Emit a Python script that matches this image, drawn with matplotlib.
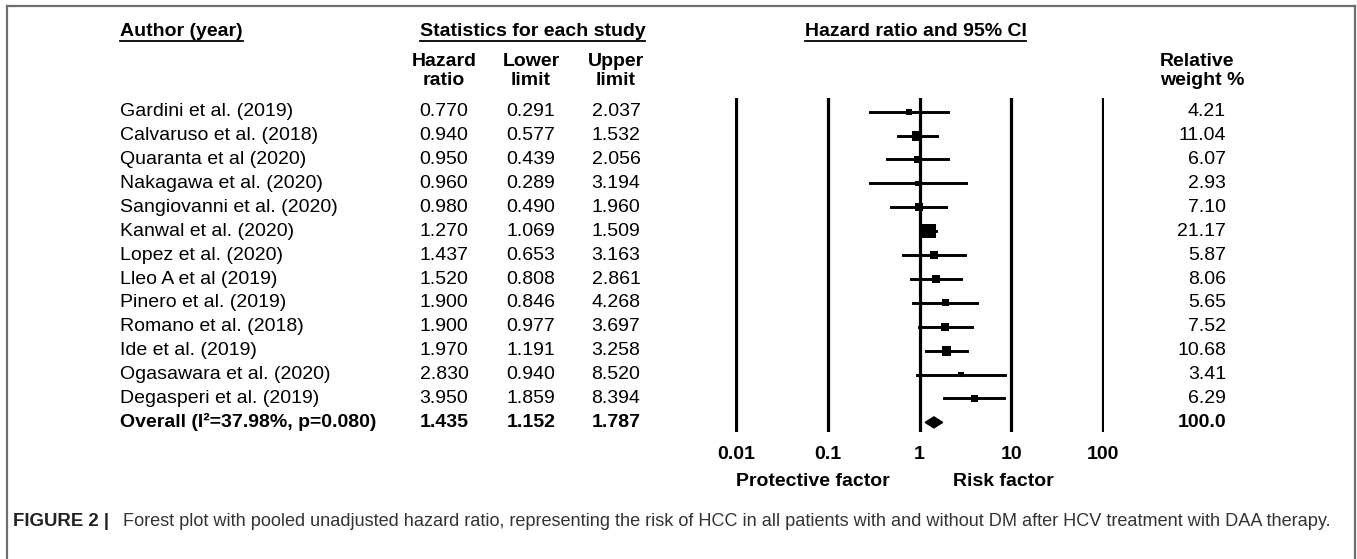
import numpy as np
import matplotlib
matplotlib.use('Agg')
import matplotlib.pyplot as plt
from matplotlib.ticker import NullLocator

plt.rcParams['font.family'] = ['Liberation Sans', 'DejaVu Sans']

# data
authors = ['Gardini et al. (2019)', 'Calvaruso et al. (2018)', 'Quaranta et al (2020)',
           'Nakagawa et al. (2020)', 'Sangiovanni et al. (2020)', 'Kanwal et al. (2020)',
           'Lopez et al. (2020)', 'Lleo A et al (2019)', 'Pinero et al. (2019)',
           'Romano et al. (2018)', 'Ide et al. (2019)', 'Ogasawara et al. (2020)',
           'Degasperi et al. (2019)']
hr = [0.770, 0.940, 0.950, 0.960, 0.980, 1.270, 1.437, 1.520, 1.900, 1.900, 1.970, 2.830, 3.950]
lower = [0.291, 0.577, 0.439, 0.289, 0.490, 1.069, 0.653, 0.808, 0.846, 0.977, 1.191, 0.940, 1.859]
upper = [2.037, 1.532, 2.056, 3.194, 1.960, 1.509, 3.163, 2.861, 4.268, 3.697, 3.258, 8.520, 8.394]
weight = [4.21, 11.04, 6.07, 2.93, 7.10, 21.17, 5.87, 8.06, 5.65, 7.52, 10.68, 3.41, 6.29]

overall_label = 'Overall (I\u00b2=37.98%, p=0.080)'
overall_hr = 1.435
overall_lower = 1.152
overall_upper = 1.787
overall_weight = 100.0

ticks = [0.01, 0.1, 1, 10, 100]
tick_labels = ['0.01', '0.1', '1', '10', '100']

caption_bold = 'FIGURE 2 |'
caption = ('Forest plot with pooled unadjusted hazard ratio, representing the risk of HCC '
           'in all patients with and without DM after HCV treatment with DAA therapy.')

W, H = 1357, 559
fig = plt.figure(figsize=(W / 100, H / 100), dpi=100)

# full-figure axes in pixel units for the text table
base = fig.add_axes([0, 0, 1, 1])
base.set_xlim(0, W)
base.set_ylim(H, 0)
base.axis('off')

# frame
frame_col = '#6e6e6e'
base.plot([7, 1355], [6, 6], color=frame_col, lw=1.6)
base.plot([7, 7], [6, H], color=frame_col, lw=1.6)
base.plot([1355, 1355], [6, H], color=frame_col, lw=1.6)

# forest axes
x_left, x_right = 735, 1104
y_top, y_bot = 98, 432
row0, drow = 111.7, 23.9
ax = fig.add_axes([x_left / W, 1 - y_bot / H, (x_right - x_left) / W, (y_bot - y_top) / H])
ax.set_xscale('log')
ax.set_xlim(0.0098, 102)
ax.set_ylim((y_bot - row0) / drow, (y_top - row0) / drow)
for s in ax.spines.values():
    s.set_visible(False)
ax.set_yticks([])
ax.xaxis.set_minor_locator(NullLocator())
ax.set_xticks(ticks)
ax.set_xticklabels(tick_labels, fontsize=14, fontweight='bold')
ax.tick_params(axis='x', length=0, pad=10)
ax.patch.set_alpha(0)

for t in ticks:
    ax.axvline(t, color='black', lw=2.3, zorder=1)

n = len(authors)
rows = np.arange(n)
for i in range(n):
    ax.plot([lower[i], upper[i]], [i, i], color='black', lw=2.1, zorder=2)
ax.scatter(hr, rows, s=4.6 * np.array(weight), marker='s', color='black', zorder=3, linewidths=0)

# pooled diamond
d = 0.23
ax.fill([overall_lower, overall_hr, overall_upper, overall_hr],
        [n, n - d, n, n + d], color='black', zorder=3)

# headers
fs = 14
hdr = []
hdr.append(base.text(120, 32, 'Author (year)', fontsize=fs, fontweight='bold', va='center', ha='left'))
hdr.append(base.text(532.5, 32, 'Statistics for each study', fontsize=fs, fontweight='bold', va='center', ha='center'))
hdr.append(base.text(915.5, 32, 'Hazard ratio and 95% CI', fontsize=fs, fontweight='bold', va='center', ha='center'))

col_x = [444, 531, 616]
col_head = ['Hazard\nratio', 'Lower\nlimit', 'Upper\nlimit']
for cx, h in zip(col_x, col_head):
    base.text(cx, 71, h, fontsize=fs, fontweight='bold', ha='center', va='center',
              multialignment='center', linespacing=1.1)
base.text(1160, 71, 'Relative\nweight %', fontsize=fs, fontweight='bold', ha='left', va='center',
          linespacing=1.1)

# table rows
for i in range(n):
    y = row0 + drow * i
    base.text(120, y, authors[i], fontsize=fs, va='center', ha='left')
    for cx, v in zip(col_x, [hr[i], lower[i], upper[i]]):
        base.text(cx, y, '%.3f' % v, fontsize=fs, va='center', ha='center')
    base.text(1226, y, '%.2f' % weight[i], fontsize=fs, va='center', ha='right')

y = row0 + drow * n
base.text(120, y, overall_label, fontsize=fs, fontweight='bold', va='center', ha='left')
for cx, v in zip(col_x, [overall_hr, overall_lower, overall_upper]):
    base.text(cx, y, '%.3f' % v, fontsize=fs, fontweight='bold', va='center', ha='center')
base.text(1226, y, '%.1f' % overall_weight, fontsize=fs, fontweight='bold', va='center', ha='right')

# axis annotations
base.text(813, 482, 'Protective factor', fontsize=fs, fontweight='bold', ha='center', va='center')
base.text(1003, 482, 'Risk factor', fontsize=fs, fontweight='bold', ha='center', va='center')

# caption
base.text(13, 522, caption_bold, fontsize=13.4, fontweight='bold', color='#222222',
          ha='left', va='center')
base.text(123, 522, caption, fontsize=13.05, color='#333333', ha='left', va='center')

# underline the headers
fig.canvas.draw()
inv = base.transData.inverted()
for t in hdr:
    bb = t.get_window_extent()
    (x0, _), (x1, _) = inv.transform([[bb.x0, bb.y0], [bb.x1, bb.y0]])
    base.plot([x0, x1], [40.5, 40.5], color='black', lw=1.3)

fig.savefig('out.png', dpi=100)
